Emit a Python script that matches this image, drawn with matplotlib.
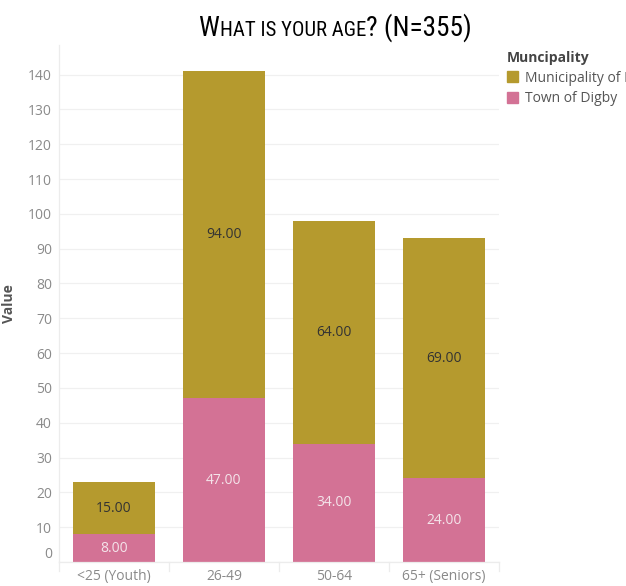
import matplotlib
matplotlib.use("Agg")
import matplotlib.pyplot as plt
from matplotlib.transforms import ScaledTranslation
from matplotlib.patches import Patch
from matplotlib import font_manager

categories = ["<25 (Youth)", "26-49", "50-64", "65+ (Seniors)"]
town_digby = [8, 47, 34, 24]
municipality = [15, 94, 64, 69]
series_names = ["Municipality of Digby", "Town of Digby"]
yticks = list(range(0, 141, 10))

GOLD = "#B59A2E"
PINK = "#D37295"
GREY = "#8a8a8a"

W, H = 626, 586
fig = plt.figure(figsize=(W / 100, H / 100), dpi=100)
ax = fig.add_axes([59 / W, (H - 562) / H, (499 - 59) / W, (562 - 45) / H])

x = list(range(len(categories)))
bw = 0.745
ax.bar(x, town_digby, width=bw, color=PINK, zorder=2)
ax.bar(x, municipality, width=bw, bottom=town_digby, color=GOLD, zorder=2)

for i in x:
    ax.text(i, town_digby[i] / 2, f"{town_digby[i]:.2f}", ha="center", va="center",
            color="#f4e4ea", fontsize=10, family="Open Sans", zorder=3)
    ax.text(i, town_digby[i] + municipality[i] / 2, f"{municipality[i]:.2f}", ha="center",
            va="center", color="#333333", fontsize=10, family="Open Sans", zorder=3)

ax.set_xlim(-0.5, len(categories) - 0.5)
ax.set_ylim(0, 148.5)
ax.set_yticks(yticks)
ax.set_yticklabels([str(v) for v in yticks])
ax.set_xticks(x)
ax.set_xticklabels(categories)
ax.tick_params(axis="y", length=0, pad=5, labelsize=10, labelcolor=GREY)
ax.tick_params(axis="x", length=0, pad=5, labelsize=10, labelcolor=GREY)
for lab in ax.get_yticklabels() + ax.get_xticklabels():
    lab.set_family("Open Sans")
lab0 = ax.get_yticklabels()[0]
lab0.set_transform(lab0.get_transform() + ScaledTranslation(0, 7 / 72, fig.dpi_scale_trans))

ax.grid(axis="y", color="#f0f0f0", linewidth=0.9, zorder=0)
ax.grid(axis="x", visible=False)
for s in ["top", "right"]:
    ax.spines[s].set_visible(False)
ax.spines["left"].set_color("#ececec")
ax.spines["bottom"].set_color("#ececec")
ax.spines["left"].set_linewidth(0.9)
ax.spines["bottom"].set_linewidth(0.9)

for b in [-0.5, 0.5, 1.5, 2.5, 3.5]:
    ax.plot([b, b], [0, -2.5], color="#ececec", lw=0.9, clip_on=False)

ax.set_ylabel("Value", fontsize=10, fontweight="bold", color="#555555", family="Open Sans")
ax.yaxis.set_label_coords((16 - 59) / 440, 0.5)

# legend
handles = [Patch(color=GOLD), Patch(color=PINK)]
leg = fig.legend(handles, series_names, loc="upper left", bbox_to_anchor=(507 / W, 1 - 51 / H),
                 frameon=False, title="Muncipality", handlelength=0.8, handleheight=0.8,
                 handletextpad=0.5, labelspacing=0.4, borderaxespad=0, borderpad=0,
                 prop={"family": "Open Sans", "size": 10})
leg.get_title().set_fontweight("bold")
leg.get_title().set_color("#444444")
leg.get_title().set_family("Open Sans")
leg._legend_box.align = "left"
for t in leg.get_texts():
    t.set_color("#555555")

# small-caps title, fitted to the reference width
names = {f.name for f in font_manager.fontManager.ttflist}
title_font = "Lato"
for cand in ["Liberation Sans Narrow", "DejaVu Sans Condensed", "Roboto Condensed", "Open Sans Condensed"]:
    if cand in names:
        title_font = cand
        break

renderer = fig.canvas.get_renderer()
pieces = [("W", 1.0), ("HAT IS YOUR AGE", 0.76), ("? (N=355)", 1.0)]
target_w = 274.0


def layout(base):
    xs = 198.0
    out = []
    for s, r in pieces:
        t = fig.text(xs / W, 1 - 36 / H, s, fontsize=base * r, family=title_font,
                     color="black", ha="left", va="baseline")
        bb = t.get_window_extent(renderer)
        out.append(t)
        xs += bb.width + (1 if s == "W" else 0)
    return out, xs - 198.0


base = 25.0
ts, w = layout(base)
for t in ts:
    t.remove()
base = base * target_w / w
ts, w = layout(base)

fig.savefig("out.png", dpi=100)
